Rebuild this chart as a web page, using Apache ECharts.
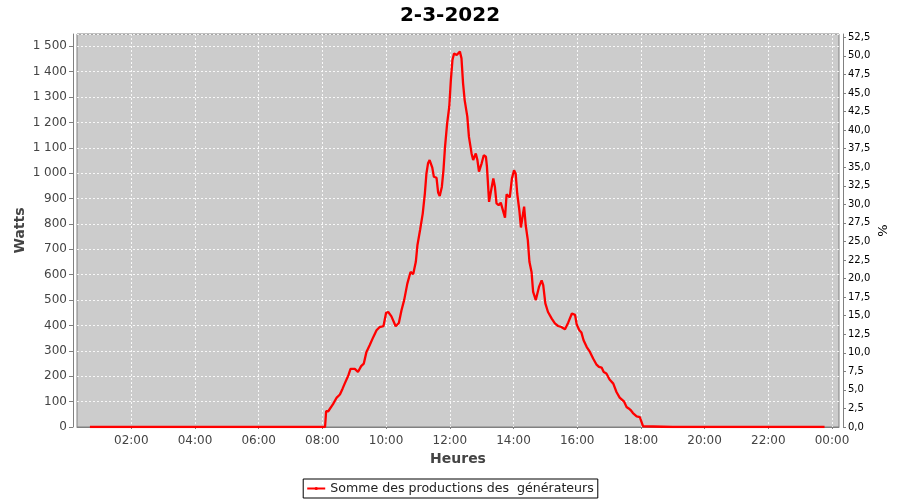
<!DOCTYPE html>
<html>
<head>
<meta charset="utf-8">
<script src="https://cdn.jsdelivr.net/npm/echarts@6/dist/echarts.min.js"></script>
<style>html,body{margin:0;padding:0;background:#fff}#c{width:900px;height:500px}</style>
</head>
<body>
<div id="c"></div>
<script>
const titleText = '2-3-2022';
const seriesName = 'Somme des productions des  générateurs';
const xTickLabels = ['02:00','04:00','06:00','08:00','10:00','12:00','14:00','16:00','18:00','20:00','22:00','00:00'];
const times = ['00:42','01:30','01:32','01:34','01:38','01:40','01:42','03:00','05:00','07:00','07:20','07:22','07:50','07:52','08:05',
'08:07','08:11','08:20','08:27','08:33','08:38','08:42','08:49','08:53','09:01','09:07','09:13','09:18','09:23','09:29','09:36','09:42','09:48','09:55',
'10:00','10:04','10:10','10:18','10:24','10:29','10:34','10:40','10:46','10:51','10:56','10:59','11:04','11:09','11:13','11:16','11:19','11:22','11:27','11:30','11:35','11:38','11:41','11:45','11:48','11:51','11:55','11:59',
'12:02','12:05','12:08','12:10','12:13','12:16','12:19','12:22','12:25','12:28','12:33','12:36','12:41','12:44','12:49','12:52','12:55',
'13:00','13:04','13:08','13:10','13:14','13:19','13:22','13:25','13:28','13:32','13:36','13:39','13:44','13:47','13:53','13:57',
'14:01','14:04','14:07','14:11','14:14','14:17','14:20','14:23','14:27','14:30','14:34','14:37','14:42','14:45','14:48','14:53','14:56',
'15:00','15:05','15:12','15:18','15:24','15:30','15:37','15:43','15:50','15:56','15:59',
'16:04','16:08','16:12','16:18','16:24','16:30','16:36','16:41','16:46','16:50','16:55',
'17:01','17:08','17:14','17:20','17:28','17:33','17:37','17:41','17:45','17:52','17:58','18:01','18:04','18:06',
'19:00','20:00','21:00','22:00','23:00','23:46'];
const watts = [0,0,3,0,0,3,0,0,0,0,0,2,0,3,0,
62,62,90,116,128,151,171,204,229,229,217,240,250,296,322,355,381,394,397,
450,453,436,397,410,460,500,565,611,602,651,716,776,841,920,999,1039,1052,1022,986,982,924,910,946,1010,1104,1196,1262,
1367,1446,1472,1479,1466,1466,1479,1453,1354,1288,1223,1144,1078,1052,1078,1052,1006,
1039,1071,1065,1025,887,946,979,946,881,874,884,887,825,917,905,979,
1012,999,920,854,786,828,868,795,736,651,611,532,500,493,552,578,559,
487,453,427,408,398,394,385,411,447,442,405,
381,372,342,315,296,270,247,237,234,217,211,
187,171,138,116,101,79,73,66,55,42,39,37,3,0,
0,0,0,0,0,0];
const leftAxisName = 'Watts';
const rightAxisName = '%';
const xAxisName = 'Heures';

function toMin(s){const p=s.split(':');return (+p[0])*60+(+p[1]);}
function tickToMin(s,i){return (i+1)*120;}
const xTicks = xTickLabels.map(tickToMin);
const data = times.map((t,i)=>[toMin(t), watts[i]]);
function fmtMin(v){let h=Math.floor(Math.round(v)/60)%24;let m=Math.round(v)%60;return String(h).padStart(2,'0')+':'+String(m).padStart(2,'0');}

const FONT = 'DejaVu Sans';
const chart = echarts.init(document.getElementById('c'), null, {renderer:'canvas'});
chart.setOption({
  animation:false,
  backgroundColor:'#ffffff',
  title:{text:titleText,left:'center',top:1,textStyle:{fontFamily:FONT,fontSize:20,fontWeight:'bold',color:'#000'}},
  grid:{left:77,right:61,top:34,bottom:73,show:true,backgroundColor:'#cccccc',borderColor:'#808080',borderWidth:1},
  legend:{data:[seriesName],left:'center',bottom:2,borderColor:'#000',borderWidth:1,padding:[3,4,3,3],itemWidth:18,itemHeight:4,itemGap:4,
    textStyle:{fontFamily:FONT,fontSize:12.6,color:'#222'}},
  xAxis:{type:'value',min:17.7,max:1453.2,offset:4,
    name:xAxisName,nameLocation:'middle',nameGap:21,nameMoveOverlap:false,nameTextStyle:{fontFamily:FONT,fontSize:14,fontWeight:'bold',color:'#444'},
    axisLine:{show:true,lineStyle:{color:'#808080',width:1}},
    axisTick:{show:true,length:2,customValues:xTicks,lineStyle:{color:'#808080'}},
    axisLabel:{customValues:xTicks,margin:4,fontFamily:FONT,fontSize:12,color:'#444',formatter:fmtMin},
    splitLine:{show:true,lineStyle:{color:'#ffffff',width:1,type:[2,2],opacity:0.85}}},
  yAxis:[
    {type:'value',min:0,max:1548.5,interval:100,offset:4,position:'left',
      name:leftAxisName,nameLocation:'middle',nameGap:46,nameMoveOverlap:false,nameTextStyle:{fontFamily:FONT,fontSize:14,fontWeight:'bold',color:'#444'},
      axisLine:{show:true,lineStyle:{color:'#808080',width:1}},
      axisTick:{show:true,length:4,lineStyle:{color:'#808080'}},
      axisLabel:{margin:6,showMaxLabel:false,fontFamily:FONT,fontSize:12,color:'#444',formatter:v=>String(Math.round(v)).replace(/\B(?=(\d{3})+(?!\d))/g,' ')},
      splitLine:{show:true,lineStyle:{color:'#ffffff',width:1,type:[2,2],opacity:0.85}}},
    {type:'value',min:0,max:52.95,interval:2.5,offset:4,position:'right',
      name:rightAxisName,nameLocation:'middle',nameGap:34,nameMoveOverlap:false,nameTextStyle:{fontFamily:FONT,fontSize:13,color:'#000'},
      axisLine:{show:true,lineStyle:{color:'#808080',width:1}},
      axisTick:{show:true,length:3,lineStyle:{color:'#808080'}},
      axisLabel:{margin:5,showMaxLabel:false,fontFamily:FONT,fontSize:10,color:'#000',formatter:v=>v.toFixed(1).replace('.',',')},
      splitLine:{show:false}}
  ],
  series:[{name:seriesName,type:'line',yAxisIndex:0,data:data,showSymbol:false,symbol:'none',
    lineStyle:{color:'#ff0000',width:2.3},itemStyle:{color:'#ff0000'}}]
});
</script>
</body>
</html>
